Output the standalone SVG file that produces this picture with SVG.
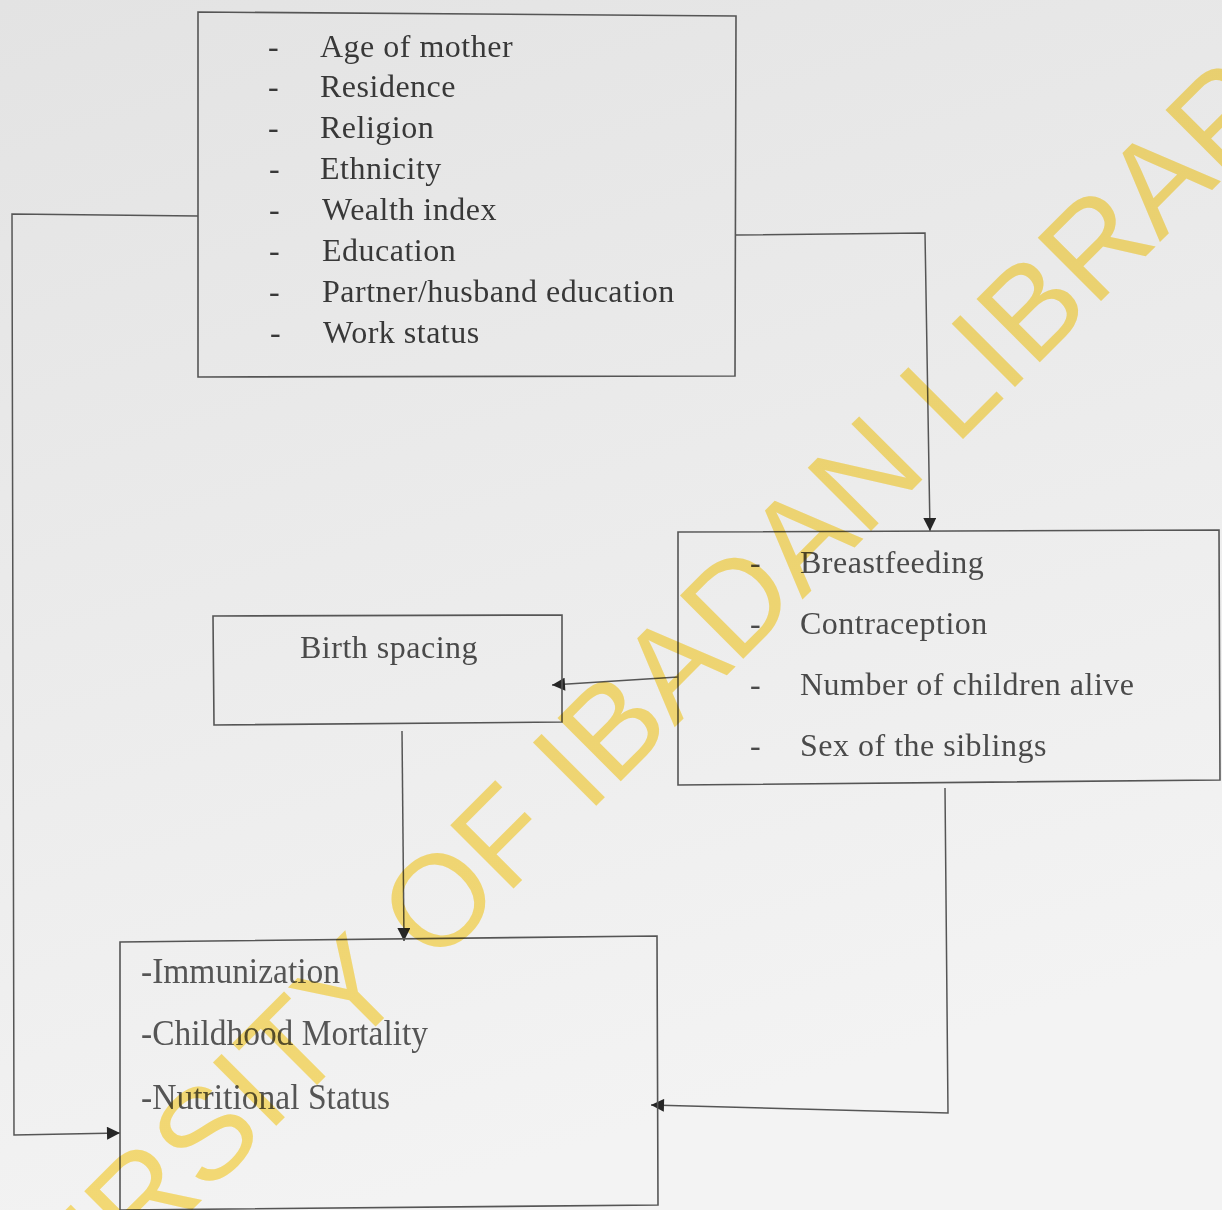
<svg xmlns="http://www.w3.org/2000/svg" width="1222" height="1210" viewBox="0 0 1222 1210">
  <defs>
    <linearGradient id="paper" x1="0" y1="0" x2="0.3" y2="1">
      <stop offset="0" stop-color="#e3e3e3"/>
      <stop offset="0.5" stop-color="#ebebeb"/>
      <stop offset="1" stop-color="#f3f3f3"/>
    </linearGradient>
    <marker id="arrow" viewBox="0 0 10 10" refX="10" refY="5" markerWidth="14" markerHeight="13" markerUnits="userSpaceOnUse" orient="auto">
      <path d="M0,0 L10,5 L0,10 z" fill="#262626"/>
    </marker>
    <style>
      .box { fill: none; stroke: #555; stroke-width: 1.6; }
      .line { fill: none; stroke: #555; stroke-width: 1.5; }
      .t1 { font-family: "Liberation Serif", "Times New Roman", serif; font-size: 32px; fill: #383838; letter-spacing: 0.5px; }
      .t2 { font-family: "Liberation Serif", "Times New Roman", serif; font-size: 32px; fill: #4a4a4a; letter-spacing: 0.5px; }
      .t3 { font-family: "Liberation Serif", "Times New Roman", serif; font-size: 35px; fill: #555; }
      .wm { font-family: "Liberation Sans", Arial, sans-serif; font-size: 130px; fill: #ffe47a; mix-blend-mode: multiply; }
    </style>
  </defs>

  <rect x="0" y="0" width="1222" height="1210" fill="url(#paper)"/>

  <g id="connectors">
    <polyline class="line" points="198,216 12,214 14,1135 120,1133" marker-end="url(#arrow)"/>
    <polyline class="line" points="736,235 925,233 930,531" marker-end="url(#arrow)"/>
    <line class="line" x1="678" y1="677" x2="552" y2="685" marker-end="url(#arrow)"/>
    <line class="line" x1="402" y1="731" x2="404" y2="941" marker-end="url(#arrow)"/>
    <polyline class="line" points="945,788 948,1113 651,1105" marker-end="url(#arrow)"/>
  </g>

  <g id="background-factors">
    <polygon class="box" points="198,12 736,16 735,376 198,377"/>
    <g class="t1">
      <text x="268" y="57">-</text><text x="320" y="57">Age of mother</text>
      <text x="268" y="97">-</text><text x="320" y="97">Residence</text>
      <text x="268" y="138">-</text><text x="320" y="138">Religion</text>
      <text x="269" y="179">-</text><text x="320" y="179">Ethnicity</text>
      <text x="269" y="220">-</text><text x="322" y="220">Wealth index</text>
      <text x="269" y="261">-</text><text x="322" y="261">Education</text>
      <text x="269" y="302">-</text><text x="322" y="302">Partner/husband education</text>
      <text x="270" y="343">-</text><text x="323" y="343">Work status</text>
    </g>
  </g>

  <g id="proximate-factors">
    <polygon class="box" points="678,532 1219,530 1220,780 678,785"/>
    <g class="t2">
      <text x="750" y="573">-</text><text x="800" y="573">Breastfeeding</text>
      <text x="750" y="634">-</text><text x="800" y="634">Contraception</text>
      <text x="750" y="695">-</text><text x="800" y="695">Number of children alive</text>
      <text x="750" y="756">-</text><text x="800" y="756">Sex of the siblings</text>
    </g>
  </g>

  <g id="birth-spacing">
    <polygon class="box" points="213,616 562,615 562,722 214,725"/>
    <text class="t2" x="300" y="658">Birth spacing</text>
  </g>

  <g id="outcomes">
    <polygon class="box" points="120,942 657,936 658,1205 120,1210"/>
    <g class="t3">
      <text x="141" y="983" textLength="199" lengthAdjust="spacingAndGlyphs">-Immunization</text>
      <text x="141" y="1045" textLength="287" lengthAdjust="spacingAndGlyphs">-Childhood Mortality</text>
      <text x="141" y="1109" textLength="249" lengthAdjust="spacingAndGlyphs">-Nutritional Status</text>
    </g>
  </g>

  <g id="watermark">
    <text class="wm" transform="translate(-141,1543) rotate(-45)" x="0" y="0">UNIVERSITY OF IBADAN LIBRARY</text>
  </g>
</svg>
